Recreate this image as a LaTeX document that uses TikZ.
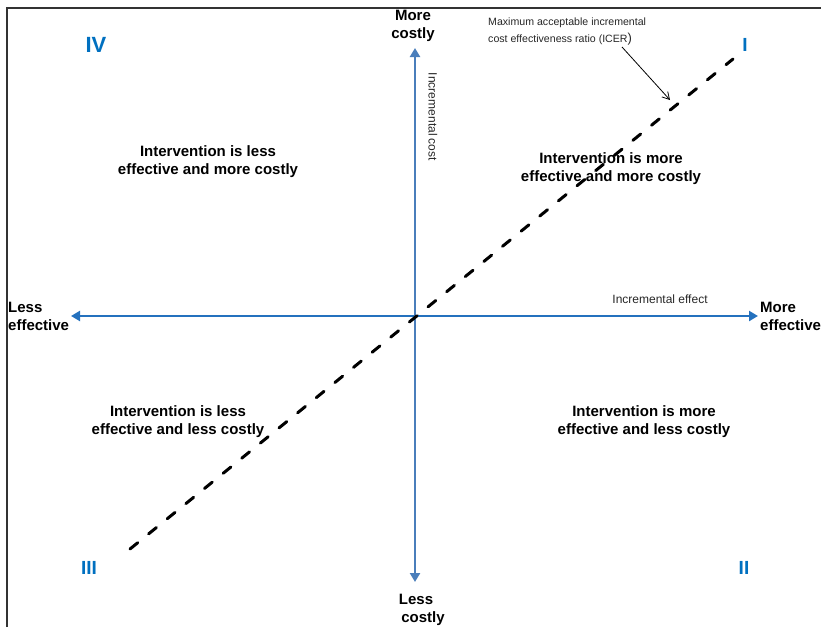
\documentclass[tikz,border=0pt]{standalone}
\usepackage{fontspec}
\setmainfont{Liberation Sans}
\usetikzlibrary{arrows.meta}
\definecolor{costblue}{RGB}{74,126,187}
\definecolor{effectblue}{RGB}{36,113,190}
\definecolor{quadblue}{RGB}{0,112,192}

\begin{document}
\begin{tikzpicture}[x=1pt,y=-1pt]
\tikzstyle{every node}=[inner sep=0pt,align=center]
\tikzstyle{quad}=[font=\fontsize{15}{18}\selectfont\bfseries]
\tikzstyle{numeral}=[font=\fontsize{19}{19}\selectfont\bfseries,text=quadblue]
\tikzstyle{small}=[font=\fontsize{12}{14}\selectfont,text=black!85]
\tikzstyle{axis}=[line width=2.8pt,{Triangle[length=9pt,width=10pt]}-{Triangle[length=9pt,width=10pt]}]
\useasboundingbox (0,0) rectangle (821,627);
\coordinate (O) at (415,316);
\coordinate (L) at (71,316);
\coordinate (R) at (758,316);
\coordinate (T) at (415,48);
\coordinate (B) at (415,582);
\coordinate (P) at (130,549);
\coordinate (Q) at (733,59);
\coordinate (K) at (622,47);
\coordinate (M) at (670,100);
% frame
\draw[line width=1.8pt,black!80] (7,627) -- (7,8) -- (821,8);
% axes and threshold line
\draw[axis,effectblue] (L) -- (R);
\draw[axis,costblue] (B) -- (T);
\draw[line width=3pt,dash pattern=on 10pt off 14pt,line cap=round] (P) -- (Q);
\draw[-{Straight Barb[length=7pt,width=8pt]},line width=0.8pt] (K) -- (M);
% axis ends
\node[quad] (mc) at (413,26) {More\\costly};
\node[quad] (lc) at (416,610) {Less\\\hspace*{14pt}costly};
\node[quad,anchor=west,align=left] (le) at (8,316) {Less\\effective};
\node[quad,anchor=west,align=left] (me) at (760,316) {More\\effective};
% quadrants
\node[quad] (q4) at (208,162) {Intervention is less\\effective and more costly};
\node[quad] (q1) at (611,169) {Intervention is more\\effective and more costly};
\node[quad] (q3) at (178,422) {Intervention is less\\effective and less costly};
\node[quad] (q2) at (644,422) {Intervention is more\\effective and less costly};
\node[numeral,font=\fontsize{22}{22}\selectfont\bfseries] (n4) at (96,45) {IV};
\node[numeral] (n1) at (745,45) {I};
\node[numeral] (n3) at (89,568) {III};
\node[numeral] (n2) at (744,568) {II};
% axis titles
\node[small] (ie) at (660,299) {Incremental effect};
\node[small,rotate=-90] (ic) at (433,117) {Incremental cost};
\node[small,font=\fontsize{10.6}{17}\selectfont,anchor=west,align=left] (icer) at (488,32) {Maximum acceptable incremental\\cost effectiveness ratio (ICER{\fontsize{13}{17}\selectfont)}};
\end{tikzpicture}
\end{document}
